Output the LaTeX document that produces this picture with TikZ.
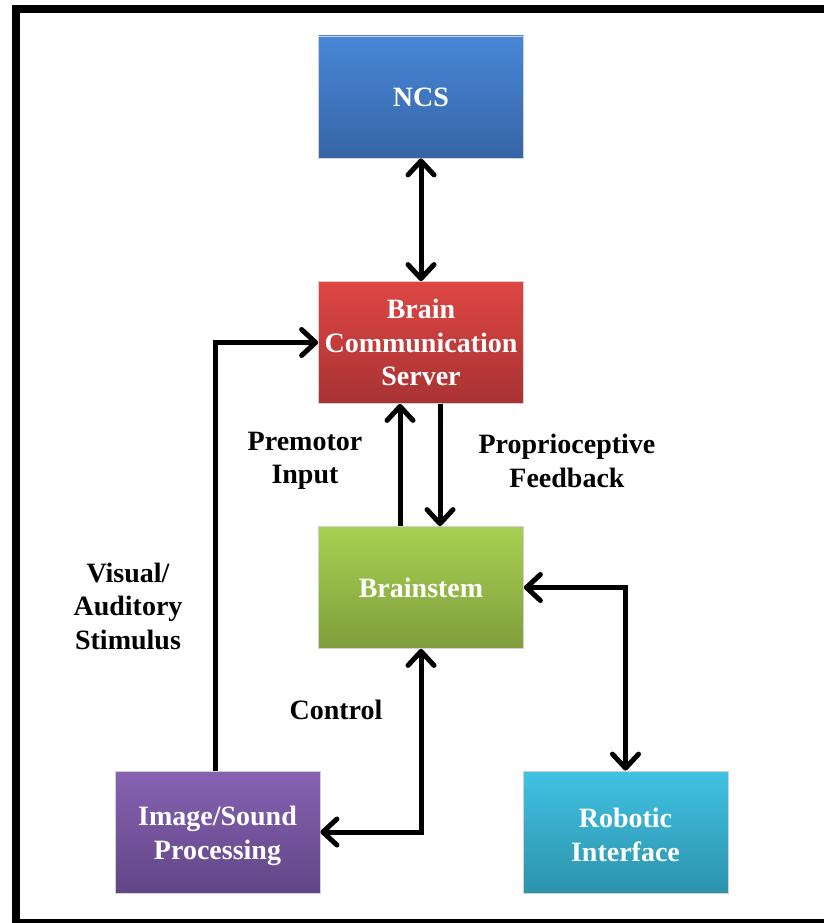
\documentclass[tikz,border=0pt]{standalone}
\usepackage{fontspec}
\setmainfont{Liberation Serif}
\usetikzlibrary{arrows.meta,calc}
\definecolor{ncsT}{HTML}{4887D8}
\definecolor{ncsB}{HTML}{3665A6}
\definecolor{bcsT}{HTML}{DE4643}
\definecolor{bcsB}{HTML}{A83233}
\definecolor{bsT}{HTML}{A8D152}
\definecolor{bsB}{HTML}{7F9D3B}
\definecolor{ispT}{HTML}{8762B3}
\definecolor{ispB}{HTML}{614686}
\definecolor{riT}{HTML}{40C2E3}
\definecolor{riB}{HTML}{2D93AC}
\tikzset{
  blk/.style={rectangle, minimum width=205pt, minimum height=122pt, inner sep=0pt,
    draw=black!18, line width=0.8pt},
  btxt/.style={text=white, align=center, inner sep=0pt,
    font=\fontsize{28}{33.5}\selectfont\bfseries},
  lbl/.style={align=center, inner sep=0pt, font=\fontsize{28}{33.5}\selectfont\bfseries},
  arr/.style={line width=5pt, -{Straight Barb[length=14pt, width=26pt, line cap=round, line join=round]}},
  arrb/.style={line width=5pt, {Straight Barb[length=14pt, width=26pt, line cap=round, line join=round]}-{Straight Barb[length=14pt, width=26pt, line cap=round, line join=round]}},
  frame/.style={line width=8pt, draw=black}
}
\begin{document}
\begin{tikzpicture}[x=1pt, y=-1pt]
\useasboundingbox (0,0) rectangle (824,923);
\clip (0,0) rectangle (824,923);
\fill[white] (0,0) rectangle (824,923);
\draw[frame] (16,9) rectangle (840,923);

\node[blk, top color=ncsT, bottom color=ncsB] (ncs) at (421,97) {};
\node[blk, top color=bcsT, bottom color=bcsB] (bcs) at (421,342.5) {};
\node[blk, top color=bsT, bottom color=bsB] (bs) at (421,587.5) {};
\node[blk, top color=ispT, bottom color=ispB] (isp) at (217.5,832) {};
\node[blk, top color=riT, bottom color=riB] (ri) at (625.5,832) {};

\node[btxt] (tncs) at (ncs.center) {NCS};
\node[btxt] (tbcs) at (bcs.center) {Brain\\Communication\\Server};
\node[btxt] (tbs) at (bs.center) {Brainstem};
\node[btxt] (tisp) at ([yshift=-4pt]isp.center) {Image/Sound\\Processing};
\node[btxt] (tri) at ([yshift=-3pt]ri.center) {Robotic\\Interface};

\node[lbl] (lpre) at (305,461) {Premotor\\Input};
\node[lbl] (lpro) at (567,461) {Proprioceptive\\Feedback};
\node[lbl] (lvis) at (128,606) {Visual/\\Auditory\\Stimulus};
\node[lbl] (lctl) at (336,710) {Control};

\draw[arrb] (ncs) -- (bcs);
\draw[arr] ([xshift=-2.5pt]isp.north) |- (bcs.west);
\draw[arr] ([xshift=-21pt]bs.north) -- ([xshift=-21pt]bcs.south);
\draw[arr] ([xshift=19pt]bcs.south) -- ([xshift=19pt]bs.north);
\draw[arrb] (bs.east) -| (ri.north);
\draw[arrb] (bs.south) |- (isp.east);
\end{tikzpicture}
\end{document}
